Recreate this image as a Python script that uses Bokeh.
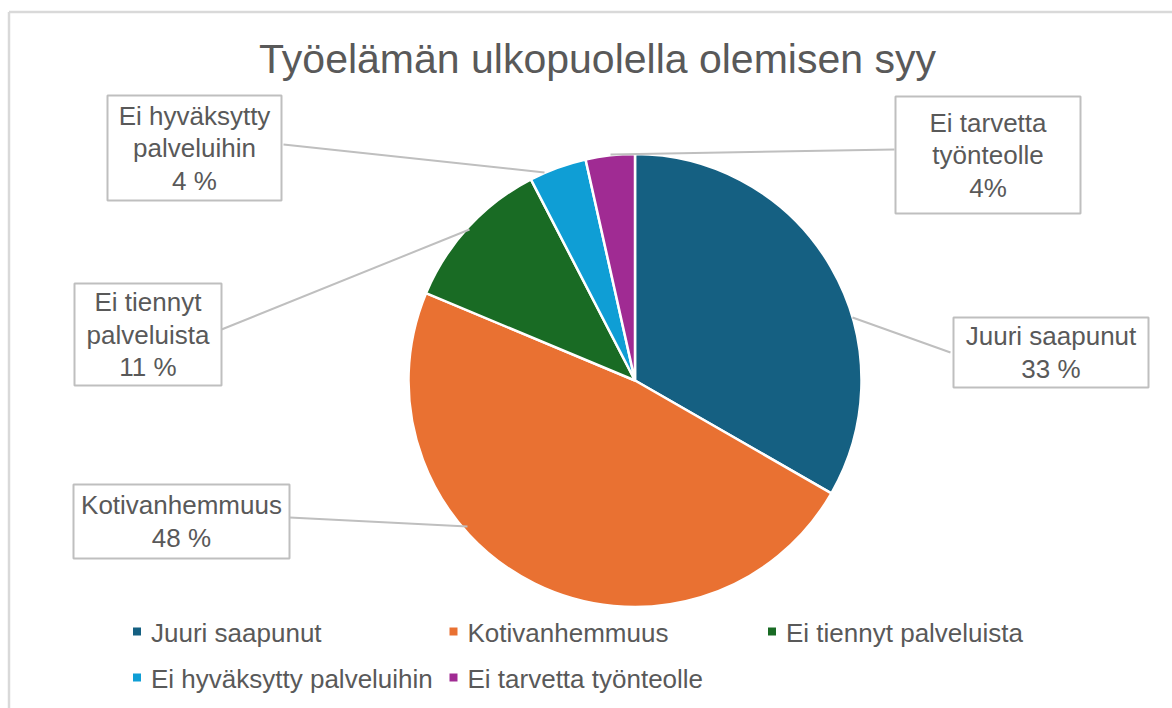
import math
from bokeh.plotting import figure
from bokeh.models import Range1d
from bokeh.core.properties import value
from bokeh.embed import file_html
from bokeh.resources import INLINE

# ---- data ----
title = "Työelämän ulkopuolella olemisen syy"
categories = ["Juuri saapunut", "Kotivanhemmuus", "Ei tiennyt palveluista",
              "Ei hyväksytty palveluihin", "Ei tarvetta työnteolle"]
shares = [33.3, 48.0, 11.1, 4.1, 3.5]
pct_labels = ["33 %", "48 %", "11 %", "4 %", "4%"]
label_lines = [["Juuri saapunut"], ["Kotivanhemmuus"], ["Ei tiennyt", "palveluista"],
               ["Ei hyväksytty", "palveluihin"], ["Ei tarvetta", "työnteolle"]]
colors = ["#156082", "#E97132", "#196B24", "#0F9ED5", "#A02B93"]

# ---- layout ----
W, H = 1172, 708
OFF = 0
FONT = "Liberation Sans"
TXT = "#595959"
GRID = "#BFBFBF"

def X(px):
    return px - OFF

def Y(py):
    return (OFF + H) - py

p = figure(width=W, height=H, x_range=Range1d(0, W), y_range=Range1d(0, H),
           output_backend="svg", toolbar_location=None, min_border=0,
           outline_line_color=None)
p.axis.visible = False
p.grid.visible = False
p.background_fill_color = "white"

# outer chart border (partially cropped)
p.segment(x0=[X(8.5), X(8.5)], y0=[Y(11.5), Y(11.5)], x1=[X(8.5), X(1200)], y1=[Y(720), Y(11.5)],
          line_color="#D9D9D9", line_width=2.5)

# title
p.text(x=[X(597)], y=[Y(58)], text=[title], text_font=value(FONT), text_font_size="41px",
       text_color=TXT, text_align="center", text_baseline="middle")

# pie
cx, cy, r = X(634.5), Y(380), 226.5
total = sum(shares)
starts, ends = [], []
cum = 0.0
for s in shares:
    starts.append(math.pi / 2 - 2 * math.pi * cum / total)
    cum += s
    ends.append(math.pi / 2 - 2 * math.pi * cum / total)
p.wedge(x=[cx] * len(shares), y=[cy] * len(shares), radius=r, start_angle=starts,
        end_angle=ends, direction="clock", fill_color=colors, line_color="white",
        line_width=2.5)

# data label boxes: (left, top, right, bottom) in page pixels, leader (x0,y0,x1,y1)
boxes = [
    (953, 317, 1148, 387),
    (73, 484, 289, 558),
    (74, 283, 221, 385),
    (107, 95, 281, 200),
    (895, 96, 1080, 213),
]
leaders = [
    (950, 352, 852, 317),
    (289, 517, 467, 526),
    (221, 329, 469, 229),
    (283, 144, 544, 172),
    (894, 149, 610, 154),
]
line_h = 32.5
for i in range(len(categories)):
    l, t, rr, b = boxes[i]
    x0, y0, x1, y1 = leaders[i]
    p.segment(x0=[X(x0)], y0=[Y(y0)], x1=[X(x1)], y1=[Y(y1)], line_color=GRID, line_width=2)
    p.quad(left=[X(l)], right=[X(rr)], top=[Y(t)], bottom=[Y(b)], fill_color="white",
           line_color=GRID, line_width=2)
    lines = label_lines[i] + [pct_labels[i]]
    n = len(lines)
    mid = (t + b) / 2
    for k, ln in enumerate(lines):
        yy = mid + (k - (n - 1) / 2) * line_h
        p.text(x=[X((l + rr) / 2)], y=[Y(yy)], text=[ln], text_font=value(FONT),
               text_font_size="26px", text_color=TXT, text_align="center",
               text_baseline="middle")

# legend
leg_pos = [(136.5, 631), (453, 631), (771.5, 631), (136.5, 677), (453, 677)]
for i, name in enumerate(categories):
    mx, my = leg_pos[i]
    p.rect(x=[X(mx)], y=[Y(my)], width=8, height=8, fill_color=colors[i], line_color=None)
    p.text(x=[X(mx + 14)], y=[Y(my + 1)], text=[name], text_font=value(FONT),
           text_font_size="26px", text_color=TXT, text_align="left", text_baseline="middle")

open("out.html", "w").write(file_html(p, INLINE))
